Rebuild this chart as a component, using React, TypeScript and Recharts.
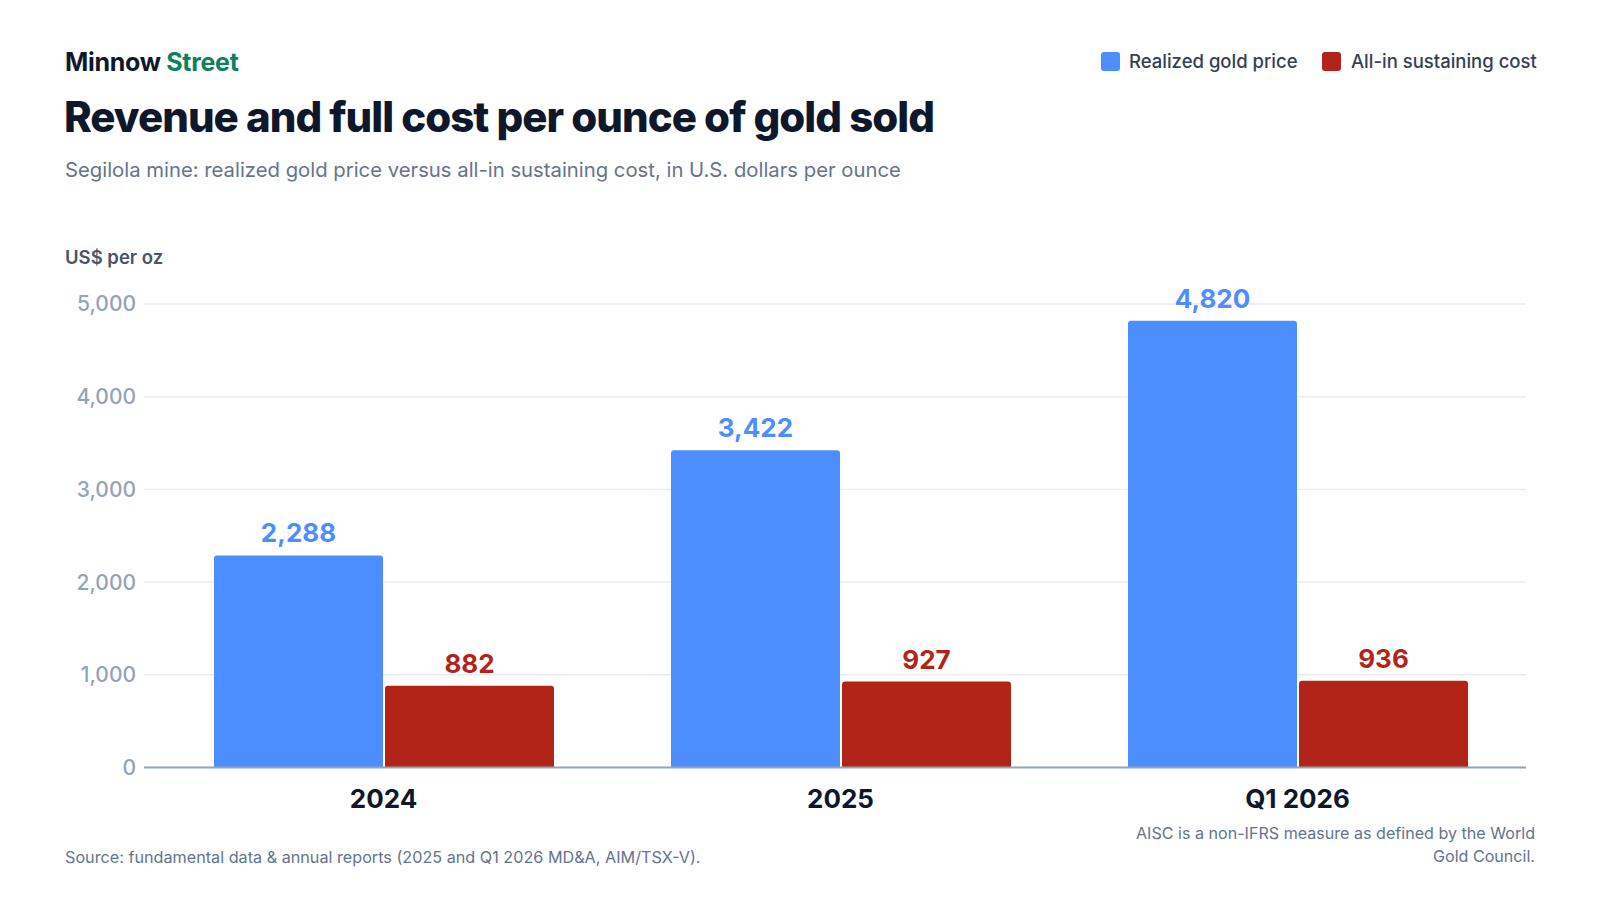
import React from "react";
import { BarChart, Bar, XAxis, YAxis, CartesianGrid, LabelList } from "recharts";

const categories = ["2024", "2025", "Q1 2026"];
const realizedPrice = [2288, 3422, 4820];
const aisc = [882, 927, 936];
const yTicks = [0, 1000, 2000, 3000, 4000, 5000];
const seriesNames = ["Realized gold price", "All-in sustaining cost"];
const seriesColors = ["#4C8DFF", "#B22418"];

const data = categories.map((c, i) => ({ name: c, price: realizedPrice[i], aisc: aisc[i] }));

const FONT = "Inter, 'Noto Sans', sans-serif";
const fmt = (v: number) => v.toLocaleString("en-US");

const XTick = (props: any) => {
  const { x, y, payload } = props;
  return (
    <text x={x} y={y} dy={18.5} textAnchor="middle" fill="#0F172A" fontSize={26} fontWeight={700} fontFamily={FONT}>
      {payload.value}
    </text>
  );
};

export default function App() {
  return (
    <div style={{ position: "absolute", left: 0, top: 0, width: 1600, height: 900, background: "#fff", fontFamily: FONT }}>
      <div style={{ position: "absolute", left: 0, top: 0 }}>
        <BarChart
          width={1600}
          height={900}
          data={data}
          margin={{ top: 304, right: 74, bottom: 82.5, left: 64 }}
          barGap={2}
          barSize={169}
        >
          <CartesianGrid vertical={false} stroke="#E9EDF2" strokeWidth={1.5} />
          <XAxis
            dataKey="name"
            height={50}
            padding={{ left: 11, right: 0 }}
            tickLine={false}
            axisLine={{ stroke: "#94A3B8", strokeWidth: 2 }}
            tickMargin={16}
            tick={<XTick />}
            interval={0}
          />
          <YAxis
            width={80}
            domain={[0, 5000]}
            ticks={yTicks}
            tickFormatter={fmt}
            axisLine={false}
            tickLine={false}
            tick={{ fill: "#94A3B8", fontSize: 21, fontWeight: 500, fontFamily: FONT }}
          />
          <Bar dataKey="price" name={seriesNames[0]} fill={seriesColors[0]} radius={[3, 3, 0, 0]} isAnimationActive={false}>
            <LabelList dataKey="price" position="top" offset={13} formatter={fmt as any} fill={seriesColors[0]} fontSize={26} fontWeight={700} fontFamily={FONT} />
          </Bar>
          <Bar dataKey="aisc" name={seriesNames[1]} fill={seriesColors[1]} radius={[3, 3, 0, 0]} isAnimationActive={false}>
            <LabelList dataKey="aisc" position="top" offset={13} formatter={fmt as any} fill={seriesColors[1]} fontSize={26} fontWeight={700} fontFamily={FONT} />
          </Bar>
        </BarChart>
      </div>
      <svg width={1600} height={900} style={{ position: "absolute", left: 0, top: 0, pointerEvents: "none" }} fontFamily={FONT}>
        <text x={65} y={71} fontSize={25} fontWeight={700} fill="#0F172A" letterSpacing={-0.3}>
          Minnow <tspan fill="#11805A">Street</tspan>
        </text>
        <text x={64} y={132} fontSize={42} fontWeight={800} fill="#0F172A" letterSpacing={-1}>
          Revenue and full cost per ounce of gold sold
        </text>
        <text x={65} y={177} fontSize={20.3} fill="#64748B">
          Segilola mine: realized gold price versus all-in sustaining cost, in U.S. dollars per ounce
        </text>
        <text x={65} y={264} fontSize={18.5} fontWeight={600} fill="#475569">
          US$ per oz
        </text>
        <rect x={1101} y={52} width={19} height={19} rx={3} fill={seriesColors[0]} />
        <text x={1129} y={68} fontSize={18.5} fontWeight={500} fill="#334155">{seriesNames[0]}</text>
        <rect x={1322} y={52} width={19} height={19} rx={3} fill={seriesColors[1]} />
        <text x={1351} y={68} fontSize={18.5} fontWeight={500} fill="#334155">{seriesNames[1]}</text>
        <text x={65} y={863} fontSize={16.2} fill="#64748B">
          Source: fundamental data &amp; annual reports (2025 and Q1 2026 MD&amp;A, AIM/TSX-V).
        </text>
        <text x={1535} y={839} fontSize={16.1} fill="#64748B" textAnchor="end">
          AISC is a non-IFRS measure as defined by the World
        </text>
        <text x={1535} y={862} fontSize={16.1} fill="#64748B" textAnchor="end">
          Gold Council.
        </text>
      </svg>
    </div>
  );
}
